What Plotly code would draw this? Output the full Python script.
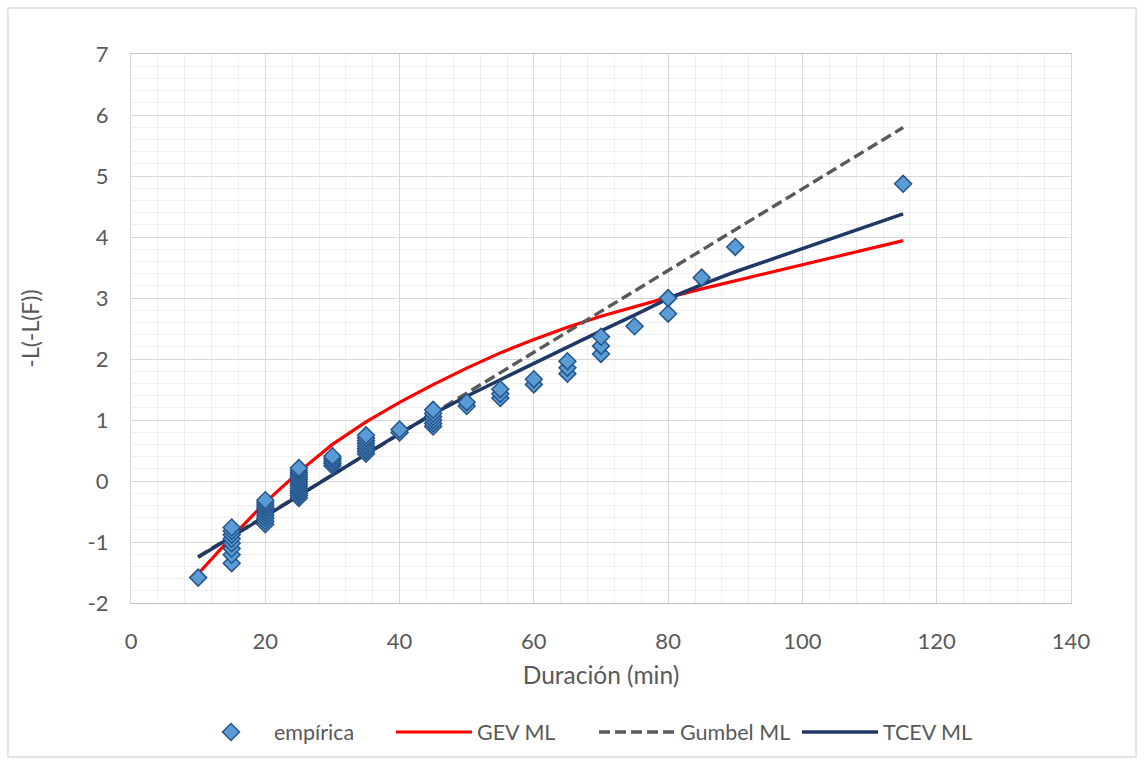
import plotly.graph_objects as go

# Empirical points (duration, reduced variate -L(-L(F)))
emp_x = [10,
         15, 15, 15, 15, 15, 15, 15, 15,
         20, 20, 20, 20, 20, 20, 20, 20, 20, 20,
         25, 25, 25, 25, 25, 25, 25, 25, 25, 25, 25, 25, 25, 25,
         30, 30, 30, 30, 30,
         35, 35, 35, 35, 35, 35, 35, 35,
         40, 40,
         45, 45, 45, 45, 45, 45,
         50, 50,
         55, 55, 55,
         60, 60,
         65, 65, 65,
         70, 70, 70,
         75,
         80, 80,
         85,
         90,
         115]
emp_y = [-1.584,
         -1.347, -1.210, -1.106, -1.021, -0.946, -0.880, -0.819, -0.763,
         -0.710, -0.660, -0.612, -0.566, -0.522, -0.479, -0.437, -0.396, -0.355, -0.316,
         -0.277, -0.238, -0.200, -0.162, -0.124, -0.087, -0.050, -0.013, 0.025, 0.062, 0.099, 0.137, 0.174, 0.212,
         0.250, 0.289, 0.327, 0.367, 0.406,
         0.447, 0.487, 0.529, 0.571, 0.614, 0.658, 0.703, 0.749,
         0.796, 0.844,
         0.893, 0.944, 0.997, 1.052, 1.108, 1.167,
         1.228, 1.292,
         1.359, 1.430, 1.505,
         1.584, 1.669,
         1.760, 1.858, 1.965,
         2.083, 2.215, 2.365,
         2.537,
         2.743, 2.998,
         3.334,
         3.837,
         4.872]

# Fitted curves evaluated at the observed durations
dur = [10, 15, 20, 25, 30, 35, 40, 45, 50, 55, 60, 65, 70, 75, 80, 85, 90, 115]
gev = [-1.52, -0.92, -0.35, 0.15, 0.60, 0.97, 1.29, 1.58, 1.85, 2.10, 2.32, 2.52, 2.70, 2.86, 3.01, 3.15, 3.28, 3.94]
gumbel = [-1.24, -0.905, -0.57, -0.235, 0.10, 0.435, 0.77, 1.105, 1.44, 1.775, 2.11, 2.445, 2.78, 3.115, 3.45, 3.785, 4.12, 5.795]
tcev = [-1.25, -0.92, -0.58, -0.24, 0.10, 0.44, 0.78, 1.10, 1.39, 1.66, 1.93, 2.19, 2.46, 2.72, 2.99, 3.22, 3.43, 4.38]

x_ticks = [0, 20, 40, 60, 80, 100, 120, 140]
y_ticks = [-2, -1, 0, 1, 2, 3, 4, 5, 6, 7]
y_tick_labels = ["-2", "-1", "0", "1", "2", "3", "4", "5", "6", "7"]

FONT = "Lato"
TXT = "#595959"

fig = go.Figure()
fig.add_trace(go.Scatter(
    x=dur, y=gev, mode="lines", name="GEV ML", legendrank=2,
    line=dict(color="#ff0000", width=3.2)))
fig.add_trace(go.Scatter(
    x=dur, y=gumbel, mode="lines", name="Gumbel ML", legendrank=3,
    line=dict(color="#595959", width=3.4, dash="11px,5px")))
fig.add_trace(go.Scatter(
    x=dur, y=tcev, mode="lines", name="TCEV ML", legendrank=4,
    line=dict(color="#1f3864", width=3.5)))
fig.add_trace(go.Scatter(
    x=emp_x, y=emp_y, mode="markers", name="empírica", legendrank=1,
    marker=dict(symbol="diamond", size=13, color="#5b9bd5",
                line=dict(color="#24558a", width=1.5))))

fig.update_layout(
    width=1144, height=765,
    margin=dict(l=131, r=73, t=54, b=162),
    paper_bgcolor="white", plot_bgcolor="white",
    font=dict(family=FONT, color=TXT, size=22),
    showlegend=True,
    legend=dict(orientation="h", x=(188 - 131) / 940, xanchor="left", y=-0.235, yanchor="middle",
                font=dict(size=21.5, color=TXT), itemwidth=76,
                entrywidth=112, entrywidthmode="pixels",
                traceorder="normal"),
    xaxis=dict(range=[0, 140], tickvals=x_ticks, ticks="", ticklabelstandoff=18,
               showgrid=True, gridcolor="#d9d9d9", gridwidth=1.3,
               minor=dict(dtick=4, showgrid=True, gridcolor="#efefef", gridwidth=1),
               showline=True, linecolor="#bfbfbf", linewidth=1.3, mirror=True,
               zeroline=False,
               title=dict(text="Duración (min)", standoff=14, font=dict(size=24.5, color=TXT)),
               tickfont=dict(size=22, color=TXT)),
    yaxis=dict(range=[-2, 7], tickvals=y_ticks, ticktext=y_tick_labels, ticks="",
               ticklabelstandoff=17,
               showgrid=True, gridcolor="#d9d9d9", gridwidth=1.3,
               minor=dict(dtick=0.2, showgrid=True, gridcolor="#efefef", gridwidth=1),
               showline=True, linecolor="#d9d9d9", linewidth=1.3, mirror=True,
               zeroline=False,
               title=dict(text="-L(-L(F))", standoff=41, font=dict(size=23, color=TXT)),
               tickfont=dict(size=22, color=TXT)),
)

# Outer chart border
fig.add_shape(type="rect", xref="paper", yref="paper",
              x0=(8 - 131) / 940, x1=(1136 - 131) / 940,
              y0=(603 - 757) / 549, y1=(603 - 8) / 549,
              line=dict(color="#d9d9d9", width=1.3), fillcolor="rgba(0,0,0,0)", layer="below")

fig.write_html("out.html")
